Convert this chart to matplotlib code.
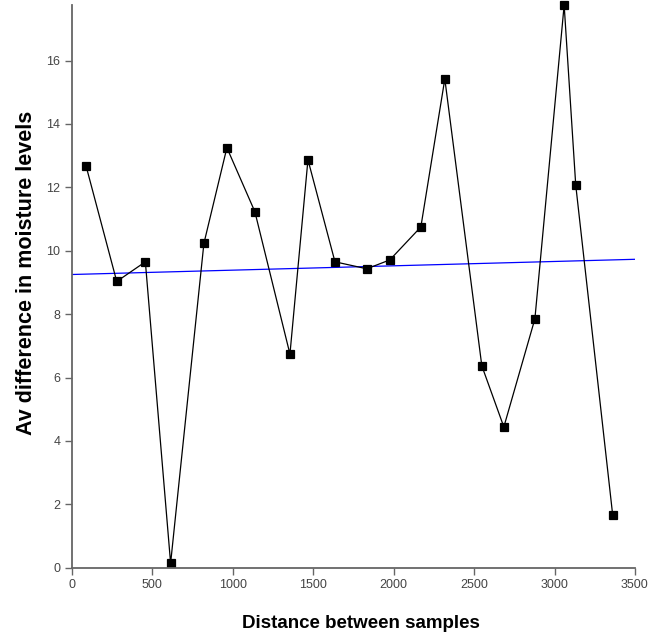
import numpy as np
import matplotlib
matplotlib.use('Agg')
import matplotlib.pyplot as plt

plt.rcParams['font.family'] = ['Liberation Sans', 'DejaVu Sans']

# distance between samples and average difference in moisture levels
distance = [87, 278, 456, 613, 820, 963, 1137, 1355, 1467, 1635,
            1833, 1976, 2169, 2318, 2548, 2685, 2878, 3060, 3132, 3362]
moisture_diff = [12.68, 9.03, 9.65, 0.14, 10.23, 13.25, 11.23, 6.74, 12.87, 9.65,
                 9.43, 9.71, 10.75, 15.42, 6.37, 4.44, 7.85, 17.75, 12.07, 1.65]

x_ticks = [0, 500, 1000, 1500, 2000, 2500, 3000, 3500]
y_ticks = [0, 2, 4, 6, 8, 10, 12, 14, 16]

# trend line
trend_intercept = 9.25
trend_slope = 0.000137
trend_x = np.array([0, 3500])
trend_y = trend_intercept + trend_slope * trend_x

fig = plt.figure(figsize=(6.5, 6.35), dpi=100)
ax = fig.add_axes([0.1108, 0.106, 0.866, 0.886])

ax.plot(trend_x, trend_y, color='#0000ff', linewidth=0.9)
ax.plot(distance, moisture_diff, color='black', linewidth=0.9,
        marker='s', markersize=5.5, markeredgewidth=0.9,
        markeredgecolor='black', markerfacecolor='black', clip_on=False)

ax.set_xlim(0, 3500)
ax.set_ylim(0, 17.75)
ax.set_xticks(x_ticks)
ax.set_yticks(y_ticks)

for side in ['top', 'right']:
    ax.spines[side].set_visible(False)
for side in ['left', 'bottom']:
    ax.spines[side].set_color('#666666')
    ax.spines[side].set_linewidth(1.3)

ax.tick_params(direction='out', length=5, width=1, color='#666666',
               labelcolor='#444444', labelsize=9)

ax.set_xlabel('Distance between samples', fontsize=13.5, fontweight='bold',
              labelpad=17, x=0.513)
ax.set_ylabel('Av difference in moisture levels', fontsize=15.5, fontweight='bold',
              labelpad=6.5, y=0.524)

fig.savefig('out.png', dpi=100)
